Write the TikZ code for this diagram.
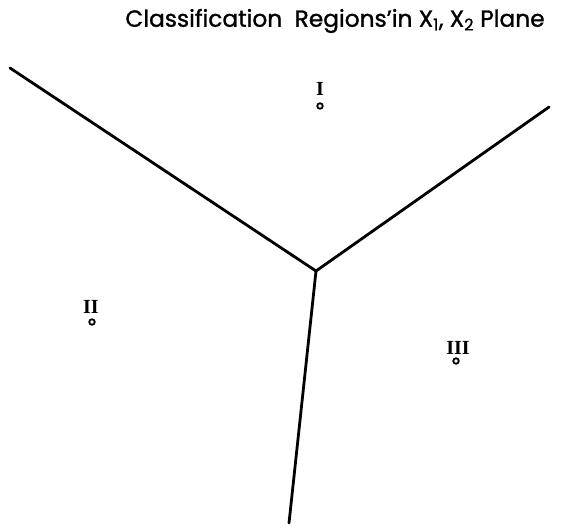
\documentclass[tikz,border=0pt]{standalone}
\usepackage{fontspec}
\setmainfont{Poppins}
\newfontfamily\titlefont[FakeBold=1.2]{Poppins}
\newfontfamily\romanfont{Liberation Serif}
\tikzset{
  boundary/.style={line width=2.8pt, line cap=round},
  region/.style={font=\romanfont\bfseries\fontsize{20}{20}\selectfont, inner sep=0pt},
  dot/.style={circle, draw, line width=1.8pt, minimum size=5.5pt, inner sep=0pt},
  titletext/.style={font=\titlefont\fontsize{23.3}{23.3}\selectfont, inner sep=0pt}
}
\begin{document}
\begin{tikzpicture}[x=1pt,y=-1pt]
\useasboundingbox (0,0) rectangle (561,529);
\node[titletext] (title) at (335,21) {Classification\ \ Regions’in X\textsubscript{1}, X\textsubscript{2} Plane};
\coordinate (c) at (316,271);
\coordinate (ul) at (10,68);
\coordinate (ur) at (549,107);
\coordinate (bot) at (289,523);
\draw[boundary] (ul) -- (c);
\draw[boundary] (ur) -- (c);
\draw[boundary] (bot) -- (c);
\node[region] (r1) at (320,89) {I};
\node[dot] (d1) at (320,106) {};
\node[region] (r2) at (91,307) {II};
\node[dot] (d2) at (92,322) {};
\node[region] (r3) at (458,348) {III};
\node[dot] (d3) at (456,361) {};
\end{tikzpicture}
\end{document}
